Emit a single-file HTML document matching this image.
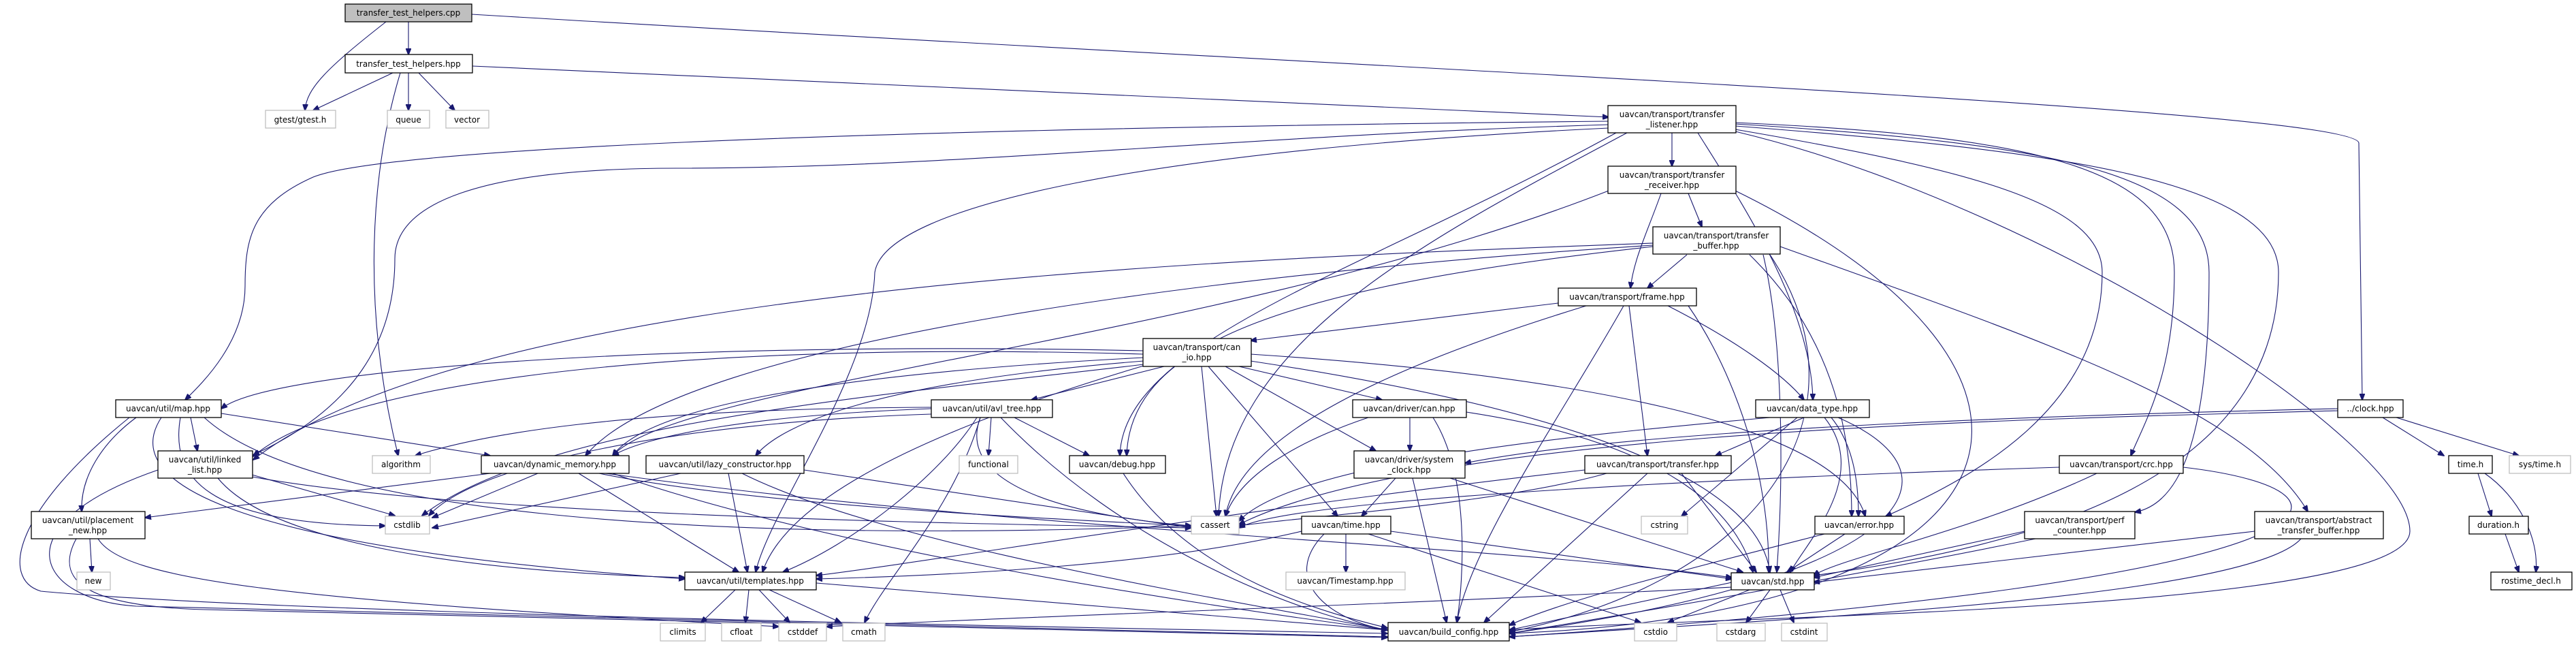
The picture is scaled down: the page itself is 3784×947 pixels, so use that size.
<!DOCTYPE html>
<html><head><meta charset="utf-8"><style>
html,body{margin:0;padding:0;background:#fff;}
svg{display:block;}
text{font-family:"DejaVu Sans","Liberation Sans",sans-serif;font-size:12px;fill:#000;}
.n{fill:#fff;stroke:#000;stroke-width:1.3;}
.g{fill:#fff;stroke:#bfbfbf;stroke-width:1.3;}
.c{fill:#bfbfbf;stroke:#000;stroke-width:1.3;}
.e path{fill:none;stroke:#191970;stroke-width:1.1;}
</style></head><body>
<svg width="3784" height="947" viewBox="0 0 3784 947" xmlns="http://www.w3.org/2000/svg">
<defs><marker id="a" markerWidth="10" markerHeight="8" refX="9" refY="4" orient="auto" markerUnits="userSpaceOnUse"><path d="M0,0 L10,4 L0,8 z" fill="#191970" stroke="#191970"/></marker></defs>
<g class="e" marker-end="url(#a)">
<path marker-end="url(#a)" d="M567,32 C480,100 450,130 448,162"/>
<path marker-end="url(#a)" d="M600,32 L600,80"/>
<path marker-end="url(#a)" d="M693,21 C2000,100 3460,160 3465,210 L3470,587"/>
<path marker-end="url(#a)" d="M577,107 L460,162"/>
<path marker-end="url(#a)" d="M600,107 L600,162"/>
<path marker-end="url(#a)" d="M615,107 L668,162"/>
<path marker-end="url(#a)" d="M694,97 L2363,172"/>
<path marker-end="url(#a)" d="M588,107 C545,250 530,450 585,669"/>
<path marker-end="url(#a)" d="M2363,178 C1200,190 560,220 460,260 C370,300 360,350 360,420 C360,500 300,560 272,587"/>
<path marker-end="url(#a)" d="M2363,183 C1800,200 1400,247 995,247 C700,247 580,300 580,380 C580,500 520,600 372,668"/>
<path marker-end="url(#a)" d="M2363,188 C1700,220 1300,300 1285,400 C1280,550 1130,750 1110,840"/>
<path marker-end="url(#a)" d="M2374,195 C2000,400 1650,500 1645,669"/>
<path marker-end="url(#a)" d="M2390,195 C2100,350 1800,500 1790,758"/>
<path marker-end="url(#a)" d="M2456,195 L2456,244"/>
<path marker-end="url(#a)" d="M2494,195 C2560,300 2660,450 2663,587"/>
<path marker-end="url(#a)" d="M2549,180 C3000,200 3194,250 3194,400 C3194,550 3150,620 3130,669"/>
<path marker-end="url(#a)" d="M2549,182 C3000,210 3245,250 3245,400 C3245,650 3200,740 3136,752"/>
<path marker-end="url(#a)" d="M2549,185 C3000,220 3347,260 3347,400 C3347,700 3000,800 2664,845"/>
<path marker-end="url(#a)" d="M2549,190 C2900,250 3088,300 3088,400 C3088,600 2900,700 2770,758"/>
<path marker-end="url(#a)" d="M2549,193 C3000,300 3540,650 3540,780 C3540,900 2500,905 2217,925"/>
<path marker-end="url(#a)" d="M2480,284 L2500,333"/>
<path marker-end="url(#a)" d="M2440,284 C2420,340 2400,380 2395,423"/>
<path marker-end="url(#a)" d="M2549,280 C3100,550 3000,900 2217,930"/>
<path marker-end="url(#a)" d="M2363,280 C1800,500 1000,560 900,669"/>
<path marker-end="url(#a)" d="M2478,374 L2420,423"/>
<path marker-end="url(#a)" d="M2428,357 C1800,380 700,420 372,675"/>
<path marker-end="url(#a)" d="M2428,360 C1800,400 1000,500 860,669"/>
<path marker-end="url(#a)" d="M2428,362 C1900,420 1660,500 1655,669"/>
<path marker-end="url(#a)" d="M2570,374 C2700,500 2720,650 2720,758"/>
<path marker-end="url(#a)" d="M2590,374 C2620,500 2620,700 2610,840"/>
<path marker-end="url(#a)" d="M2615,362 C3000,500 3300,600 3390,751"/>
<path marker-end="url(#a)" d="M2600,374 C2750,600 2600,850 2217,928"/>
<path marker-end="url(#a)" d="M2289,445 L1837,500"/>
<path marker-end="url(#a)" d="M2450,449 C2550,500 2620,550 2650,587"/>
<path marker-end="url(#a)" d="M2393,449 L2420,669"/>
<path marker-end="url(#a)" d="M2330,449 C2000,550 1820,650 1800,758"/>
<path marker-end="url(#a)" d="M2385,449 C2300,600 2160,800 2140,914"/>
<path marker-end="url(#a)" d="M2480,449 C2550,550 2600,700 2598,840"/>
<path marker-end="url(#a)" d="M1710,538 L1515,587"/>
<path marker-end="url(#a)" d="M1680,520 C1000,500 500,560 372,670"/>
<path marker-end="url(#a)" d="M1680,515 C1000,500 400,540 325,600"/>
<path marker-end="url(#a)" d="M1680,525 C1200,550 950,600 900,669"/>
<path marker-end="url(#a)" d="M1680,530 C1300,560 1150,620 1110,669"/>
<path marker-end="url(#a)" d="M1680,535 C1300,580 800,620 620,757"/>
<path marker-end="url(#a)" d="M1680,537 C1300,650 1150,750 1120,840"/>
<path marker-end="url(#a)" d="M1765,538 L1787,758"/>
<path marker-end="url(#a)" d="M1775,538 L1965,758"/>
<path marker-end="url(#a)" d="M1820,538 L2030,587"/>
<path marker-end="url(#a)" d="M1800,538 L2021,662"/>
<path marker-end="url(#a)" d="M1837,520 C2300,550 2700,620 2740,758"/>
<path marker-end="url(#a)" d="M1837,530 C2300,600 2580,700 2600,840"/>
<path marker-end="url(#a)" d="M1456,613 L1452,669"/>
<path marker-end="url(#a)" d="M1490,613 L1600,669"/>
<path marker-end="url(#a)" d="M1368,608 C1000,620 700,680 630,757"/>
<path marker-end="url(#a)" d="M1368,600 C1100,610 950,640 900,669"/>
<path marker-end="url(#a)" d="M1368,598 C900,600 700,640 610,669"/>
<path marker-end="url(#a)" d="M1440,613 C1400,720 1600,760 1750,772"/>
<path marker-end="url(#a)" d="M1435,613 C1380,700 1250,800 1150,840"/>
<path marker-end="url(#a)" d="M1440,613 C1400,750 1300,850 1270,914"/>
<path marker-end="url(#a)" d="M1470,613 C1650,800 1900,900 2038,925"/>
<path marker-end="url(#a)" d="M2071,613 L2071,662"/>
<path marker-end="url(#a)" d="M2010,613 C1900,650 1820,700 1800,758"/>
<path marker-end="url(#a)" d="M2105,613 C2160,700 2150,850 2140,914"/>
<path marker-end="url(#a)" d="M2154,605 C2450,650 2550,750 2575,840"/>
<path marker-end="url(#a)" d="M2050,702 L2000,758"/>
<path marker-end="url(#a)" d="M2075,702 L2125,914"/>
<path marker-end="url(#a)" d="M2130,702 L2560,840"/>
<path marker-end="url(#a)" d="M1977,784 L1977,840"/>
<path marker-end="url(#a)" d="M1945,784 C1880,850 1950,910 2038,925"/>
<path marker-end="url(#a)" d="M2043,780 L2544,850"/>
<path marker-end="url(#a)" d="M1912,780 C1700,830 1400,845 1199,850"/>
<path marker-end="url(#a)" d="M2010,784 L2410,914"/>
<path marker-end="url(#a)" d="M2360,695 C2200,740 1900,760 1820,772"/>
<path marker-end="url(#a)" d="M2420,695 L2180,914"/>
<path marker-end="url(#a)" d="M2470,695 L2580,840"/>
<path marker-end="url(#a)" d="M2328,690 C1800,750 1400,820 1199,845"/>
<path marker-end="url(#a)" d="M2650,613 L2520,669"/>
<path marker-end="url(#a)" d="M2600,613 C2300,640 1900,680 1820,765"/>
<path marker-end="url(#a)" d="M2640,613 L2470,758"/>
<path marker-end="url(#a)" d="M2690,613 C2720,650 2730,700 2730,758"/>
<path marker-end="url(#a)" d="M2680,613 C2750,700 2650,800 2630,840"/>
<path marker-end="url(#a)" d="M2700,613 C2900,700 2800,850 2217,930"/>
<path marker-end="url(#a)" d="M3080,695 C2900,780 2700,820 2664,845"/>
<path marker-end="url(#a)" d="M3207,686 C3500,720 3500,850 2217,935"/>
<path marker-end="url(#a)" d="M3025,686 C2600,700 1900,730 1820,775"/>
<path marker-end="url(#a)" d="M2710,784 L2625,840"/>
<path marker-end="url(#a)" d="M2680,784 C2500,830 2300,880 2217,918"/>
<path marker-end="url(#a)" d="M2974,780 L2664,848"/>
<path marker-end="url(#a)" d="M2990,791 C2700,850 2400,900 2217,930"/>
<path marker-end="url(#a)" d="M3312,780 L2664,855"/>
<path marker-end="url(#a)" d="M3380,791 C3300,880 2600,910 2217,935"/>
<path marker-end="url(#a)" d="M2544,855 L2217,925"/>
<path marker-end="url(#a)" d="M2570,866 L2450,914"/>
<path marker-end="url(#a)" d="M2600,866 L2565,914"/>
<path marker-end="url(#a)" d="M2615,866 L2635,914"/>
<path marker-end="url(#a)" d="M2544,862 C2000,890 1500,905 1214,920"/>
<path marker-end="url(#a)" d="M3500,613 L3590,669"/>
<path marker-end="url(#a)" d="M3520,613 L3700,669"/>
<path marker-end="url(#a)" d="M3434,600 C3000,610 2400,630 2152,680"/>
<path marker-end="url(#a)" d="M3434,603 C3000,615 2100,630 1820,770"/>
<path marker-end="url(#a)" d="M3640,695 L3660,758"/>
<path marker-end="url(#a)" d="M3650,695 C3700,730 3730,790 3725,840"/>
<path marker-end="url(#a)" d="M3680,784 L3700,840"/>
<path marker-end="url(#a)" d="M280,613 L290,662"/>
<path marker-end="url(#a)" d="M200,613 C150,650 118,700 120,751"/>
<path marker-end="url(#a)" d="M325,607 L720,669"/>
<path marker-end="url(#a)" d="M265,613 C250,700 300,770 566,772"/>
<path marker-end="url(#a)" d="M300,613 C450,750 1000,800 1750,772"/>
<path marker-end="url(#a)" d="M237,613 C180,700 300,800 1006,850"/>
<path marker-end="url(#a)" d="M190,613 C20,750 0,850 60,868 C400,900 1500,920 2038,930"/>
<path marker-end="url(#a)" d="M370,697 L580,757"/>
<path marker-end="url(#a)" d="M320,702 C400,800 700,840 1006,848"/>
<path marker-end="url(#a)" d="M370,700 C700,760 1500,770 1750,775"/>
<path marker-end="url(#a)" d="M232,690 C0,770 50,880 200,890 L2038,935"/>
<path marker-end="url(#a)" d="M132,791 L135,840"/>
<path marker-end="url(#a)" d="M112,791 C80,850 120,890 300,895 L2038,936"/>
<path marker-end="url(#a)" d="M144,791 C180,850 400,880 1144,920"/>
<path marker-end="url(#a)" d="M720,695 L213,760"/>
<path marker-end="url(#a)" d="M790,695 L635,760"/>
<path marker-end="url(#a)" d="M850,695 L1085,840"/>
<path marker-end="url(#a)" d="M880,695 C1100,740 1500,760 1750,772"/>
<path marker-end="url(#a)" d="M900,695 C1200,800 1700,880 2038,925"/>
<path marker-end="url(#a)" d="M890,695 C1500,780 2200,800 2544,848"/>
<path marker-end="url(#a)" d="M1000,695 L635,775"/>
<path marker-end="url(#a)" d="M1181,690 L1750,775"/>
<path marker-end="url(#a)" d="M1070,695 L1098,840"/>
<path marker-end="url(#a)" d="M1090,695 C1300,800 1800,880 2038,925"/>
<path marker-end="url(#a)" d="M1080,866 L1030,914"/>
<path marker-end="url(#a)" d="M1100,866 L1095,914"/>
<path marker-end="url(#a)" d="M1115,866 L1160,914"/>
<path marker-end="url(#a)" d="M1130,866 L1235,914"/>
<path marker-end="url(#a)" d="M1199,856 L2038,925"/>
<path marker-end="url(#a)" d="M1650,695 C1750,850 1950,900 2038,922"/>
</g>
<g text-anchor="middle">
<rect class="c" x="507" y="6" width="186" height="26"/><text x="600" y="23">transfer_test_helpers.cpp</text>
<rect class="n" x="507" y="80" width="187" height="27"/><text x="600" y="98">transfer_test_helpers.hpp</text>
<rect class="g" x="390" y="162" width="103" height="26"/><text x="441" y="180">gtest/gtest.h</text>
<rect class="g" x="569" y="162" width="62" height="26"/><text x="600" y="180">queue</text>
<rect class="g" x="655" y="162" width="63" height="26"/><text x="686" y="180">vector</text>
<rect class="n" x="2362" y="155" width="188" height="40"/><text x="2456" y="172">uavcan/transport/transfer</text><text x="2456" y="187">_listener.hpp</text>
<rect class="n" x="2362" y="244" width="188" height="40"/><text x="2456" y="261">uavcan/transport/transfer</text><text x="2456" y="276">_receiver.hpp</text>
<rect class="n" x="2428" y="333" width="187" height="40"/><text x="2521" y="350">uavcan/transport/transfer</text><text x="2521" y="365">_buffer.hpp</text>
<rect class="n" x="2289" y="423" width="203" height="26"/><text x="2390" y="440">uavcan/transport/frame.hpp</text>
<rect class="n" x="1679" y="497" width="159" height="41"/><text x="1758" y="514">uavcan/transport/can</text><text x="1758" y="529">_io.hpp</text>
<rect class="n" x="170" y="587" width="155" height="26"/><text x="247" y="604">uavcan/util/map.hpp</text>
<rect class="n" x="1368" y="587" width="178" height="26"/><text x="1457" y="604">uavcan/util/avl_tree.hpp</text>
<rect class="n" x="1987" y="587" width="167" height="26"/><text x="2070" y="604">uavcan/driver/can.hpp</text>
<rect class="n" x="2579" y="587" width="167" height="26"/><text x="2662" y="604">uavcan/data_type.hpp</text>
<rect class="n" x="3434" y="587" width="96" height="26"/><text x="3482" y="604">../clock.hpp</text>
<rect class="n" x="232" y="662" width="139" height="40"/><text x="301" y="679">uavcan/util/linked</text><text x="301" y="694">_list.hpp</text>
<rect class="g" x="547" y="669" width="85" height="26"/><text x="589" y="686">algorithm</text>
<rect class="n" x="707" y="669" width="217" height="26"/><text x="815" y="686">uavcan/dynamic_memory.hpp</text>
<rect class="n" x="949" y="669" width="232" height="26"/><text x="1065" y="686">uavcan/util/lazy_constructor.hpp</text>
<rect class="g" x="1409" y="669" width="86" height="26"/><text x="1452" y="686">functional</text>
<rect class="n" x="1571" y="669" width="141" height="26"/><text x="1641" y="686">uavcan/debug.hpp</text>
<rect class="n" x="1989" y="662" width="163" height="40"/><text x="2070" y="679">uavcan/driver/system</text><text x="2070" y="694">_clock.hpp</text>
<rect class="n" x="2328" y="669" width="215" height="26"/><text x="2435" y="686">uavcan/transport/transfer.hpp</text>
<rect class="n" x="3025" y="669" width="182" height="26"/><text x="3116" y="686">uavcan/transport/crc.hpp</text>
<rect class="n" x="3597" y="669" width="64" height="26"/><text x="3629" y="686">time.h</text>
<rect class="g" x="3686" y="669" width="90" height="26"/><text x="3731" y="686">sys/time.h</text>
<rect class="n" x="46" y="751" width="167" height="40"/><text x="129" y="768">uavcan/util/placement</text><text x="129" y="783">_new.hpp</text>
<rect class="g" x="566" y="758" width="65" height="26"/><text x="598" y="775">cstdlib</text>
<rect class="g" x="1750" y="758" width="70" height="26"/><text x="1785" y="775">cassert</text>
<rect class="n" x="1912" y="758" width="131" height="26"/><text x="1977" y="775">uavcan/time.hpp</text>
<rect class="g" x="2411" y="758" width="68" height="26"/><text x="2445" y="775">cstring</text>
<rect class="n" x="2666" y="758" width="131" height="26"/><text x="2731" y="775">uavcan/error.hpp</text>
<rect class="n" x="2974" y="751" width="162" height="40"/><text x="3055" y="768">uavcan/transport/perf</text><text x="3055" y="783">_counter.hpp</text>
<rect class="n" x="3312" y="751" width="189" height="40"/><text x="3406" y="768">uavcan/transport/abstract</text><text x="3406" y="783">_transfer_buffer.hpp</text>
<rect class="n" x="3627" y="758" width="87" height="26"/><text x="3670" y="775">duration.h</text>
<rect class="g" x="113" y="840" width="49" height="26"/><text x="137" y="857">new</text>
<rect class="n" x="1006" y="840" width="193" height="26"/><text x="1102" y="857">uavcan/util/templates.hpp</text>
<rect class="g" x="1889" y="840" width="175" height="26"/><text x="1976" y="857">uavcan/Timestamp.hpp</text>
<rect class="n" x="2543" y="841" width="122" height="25"/><text x="2604" y="858">uavcan/std.hpp</text>
<rect class="n" x="3659" y="840" width="119" height="26"/><text x="3718" y="857">rostime_decl.h</text>
<rect class="g" x="970" y="915" width="66" height="26"/><text x="1003" y="932">climits</text>
<rect class="g" x="1060" y="915" width="58" height="26"/><text x="1089" y="932">cfloat</text>
<rect class="g" x="1144" y="915" width="70" height="26"/><text x="1179" y="932">cstddef</text>
<rect class="g" x="1238" y="915" width="62" height="26"/><text x="1269" y="932">cmath</text>
<rect class="n" x="2039" y="914" width="178" height="27"/><text x="2128" y="932">uavcan/build_config.hpp</text>
<rect class="g" x="2401" y="915" width="62" height="26"/><text x="2432" y="932">cstdio</text>
<rect class="g" x="2522" y="915" width="71" height="26"/><text x="2557" y="932">cstdarg</text>
<rect class="g" x="2617" y="915" width="67" height="26"/><text x="2650" y="932">cstdint</text>
</g>
</svg>
</body></html>
